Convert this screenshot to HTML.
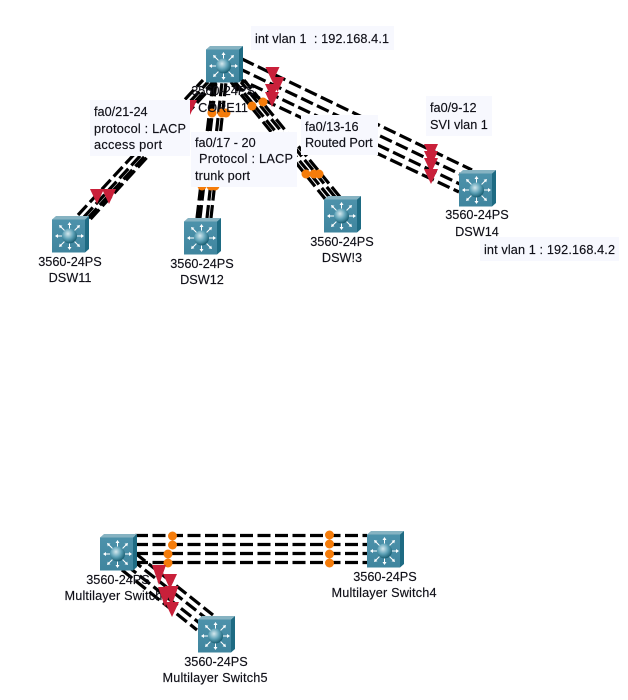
<!DOCTYPE html>
<html>
<head>
<meta charset="utf-8">
<style>
html,body{margin:0;padding:0;background:#fff;}
svg{display:block;}
text{font-family:"Liberation Sans",sans-serif;font-size:12.7px;fill:#101018;stroke:#101018;stroke-width:.15;}
.m{text-anchor:middle;}
.d{stroke:#000;stroke-width:3.2;stroke-dasharray:13 4.5;fill:none;}
.n{fill:#f7f8fe;}
.o{fill:#f57c0a;}
.r{fill:#c9203a;}
</style>
</head>
<body>
<svg width="628" height="700" viewBox="0 0 628 700" xmlns="http://www.w3.org/2000/svg">
<defs>
<radialGradient id="b" cx="40%" cy="35%" r="70%">
<stop offset="0" stop-color="#d5e8ee"/><stop offset=".5" stop-color="#5fa3b8"/><stop offset="1" stop-color="#0e5468"/>
</radialGradient>
<linearGradient id="f" x1="0" y1="0" x2="0" y2="1">
<stop offset="0" stop-color="#4d92ab"/><stop offset="1" stop-color="#3f859e"/>
</linearGradient>
<symbol id="sw" width="37" height="37" viewBox="0 0 37 37" overflow="visible">
<polygon points="0,3.5 4,0 37,0 33,3.5" fill="#86b3c2"/>
<polygon points="33,3.5 37,0 37,33 33,36.5" fill="#1e6b83"/>
<rect x="0" y="3.5" width="33" height="33" fill="url(#f)"/>
<g stroke="#fff" stroke-width="1" fill="#fff">
<path d="M17.500 8V14M17.500 26V32M5 20H11M24 20H30M8.500 10.500L12.500 14.500M26.500 10.500L22.500 14.500M8.500 29.500L12.500 25.500M26.500 29.500L22.500 25.500" fill="none"/>
<path d="M17.500 6l-2 3h4zM17.500 34l-2-3h4zM3 20l3-2v4zM32 20l-3-2v4zM7 9l3.400.8-2.600 2.600zM28 9l-3.400.8 2.600 2.600zM7 31l3.400-.8-2.600-2.600zM28 31l-3.400-.8 2.600-2.600z" stroke="none"/>
</g>
<circle cx="17.500" cy="20" r="7.500" fill="url(#b)"/>
</symbol>
<polygon id="t" points="-7,0 7,0 0,15"/>
<polygon id="t2" points="-7,0 7,0 0,20"/>
</defs>

<!-- core to DSW14 -->
<path class="d" d="M242 59L472 170M238 68L466 177M235 77L462 185M232 85L459 192"/>
<!-- core to DSW11 -->
<path class="d" d="M78 215L203 80M84 217L208 82M88 218L213 82M90.500 219L216 82"/>
<!-- core to DSW12 -->
<path class="d" d="M197 218L213 82M200 218L216 82M207 218L222 82M211 218L226 82"/>
<!-- core to DSW13 -->
<path class="d" d="M326 200L231 82M330 198L235 82M335 197L241 82M340 197L244 80"/>
<!-- MS3 to MS4 -->
<path class="d" d="M135 535.500H367M135 544.500H367M135 553.500H367M135 562.500H367"/>
<!-- MS3 to MS5 -->
<path class="d" d="M135 553L213 615M131 559L207 619M126 565L202 625M122 570L197 630"/>

<!-- orange link lights -->
<g class="o">
<circle cx="212" cy="113" r="4.500"/><circle cx="222" cy="113" r="4.500"/><circle cx="226" cy="113" r="4.500"/>
<circle cx="252" cy="106" r="4.500"/><circle cx="263" cy="102" r="4.500"/>
<circle cx="202" cy="186" r="4.500"/><circle cx="211" cy="186" r="4.500"/><circle cx="215" cy="186" r="4.500"/>
<circle cx="306" cy="174" r="4.500"/><circle cx="314" cy="174" r="4.500"/><circle cx="319" cy="174" r="4.500"/>
<circle cx="172.500" cy="536" r="4.500"/><circle cx="172.500" cy="545" r="4.500"/><circle cx="168" cy="554" r="4.500"/><circle cx="168" cy="563" r="4.500"/>
<circle cx="329.500" cy="535" r="4.500"/><circle cx="329.500" cy="544" r="4.500"/><circle cx="329.500" cy="554" r="4.500"/><circle cx="329.500" cy="563" r="4.500"/>
</g>

<!-- devices -->
<use href="#sw" x="206" y="46"/>
<use href="#sw" x="52" y="216"/>
<use href="#sw" x="184" y="218"/>
<use href="#sw" x="324" y="196"/>
<use href="#sw" x="459" y="170"/>
<use href="#sw" x="100" y="534"/>
<use href="#sw" x="367" y="531"/>
<use href="#sw" x="198" y="616"/>

<!-- device labels -->
<text class="m" x="223" y="95">3560-24PS</text><text class="m" x="223" y="112">CORE11</text>
<text class="m" x="70" y="266">3560-24PS</text><text class="m" x="70" y="282">DSW11</text>
<text class="m" x="202" y="268">3560-24PS</text><text class="m" x="202" y="284">DSW12</text>
<text class="m" x="342" y="246">3560-24PS</text><text class="m" x="342" y="262">DSW!3</text>
<text class="m" x="477" y="219">3560-24PS</text><text class="m" x="477" y="236">DSW14</text>
<text class="m" x="118" y="584">3560-24PS</text><text class="m" x="117" y="600" textLength="105">Multilayer Switch3</text>
<text class="m" x="385" y="581">3560-24PS</text><text class="m" x="384" y="597" textLength="105">Multilayer Switch4</text>
<text class="m" x="216" y="666">3560-24PS</text><text class="m" x="215" y="682" textLength="105">Multilayer Switch5</text>

<!-- red link lights -->
<g class="r">
<use href="#t" x="272.500" y="67"/><use href="#t" x="277.500" y="77"/><use href="#t" x="272" y="84"/><use href="#t" x="272" y="92"/>
<use href="#t" x="431" y="144"/><use href="#t" x="431" y="151"/><use href="#t" x="431" y="158"/><use href="#t" x="431" y="169"/>
<use href="#t" x="97" y="189"/><use href="#t" x="109" y="189"/>
<use href="#t" x="190" y="100"/>
<use href="#t2" x="159" y="565"/><use href="#t" x="170" y="574"/>
<use href="#t2" x="165" y="587"/><use href="#t2" x="171.500" y="586"/><use href="#t" x="172" y="602"/>
</g>

<!-- notes -->
<rect class="n" x="251" y="26" width="143" height="24"/>
<text x="255" y="43" xml:space="preserve" textLength="134">int vlan 1  : 192.168.4.1</text>

<rect class="n" x="301" y="115" width="77" height="40"/>
<text x="305" y="131">fa0/13-16</text>
<text x="305" y="147">Routed Port</text>

<rect class="n" x="191" y="132" width="106" height="55"/>
<text x="195" y="147">fa0/17 - 20</text>
<text x="199" y="163" textLength="94">Protocol : LACP</text>
<text x="195" y="180" textLength="55">trunk port</text>

<rect class="n" x="90" y="100" width="100" height="56"/>
<text x="94" y="116">fa0/21-24</text>
<text x="94" y="133" textLength="92">protocol : LACP</text>
<text x="94" y="149" textLength="68">access port</text>

<rect class="n" x="426" y="96" width="66" height="40"/>
<text x="430" y="112">fa0/9-12</text>
<text x="430" y="129">SVI vlan 1</text>

<rect class="n" x="480" y="237" width="139" height="24"/>
<text x="484" y="254" textLength="131">int vlan 1 : 192.168.4.2</text>
</svg>
</body>
</html>
